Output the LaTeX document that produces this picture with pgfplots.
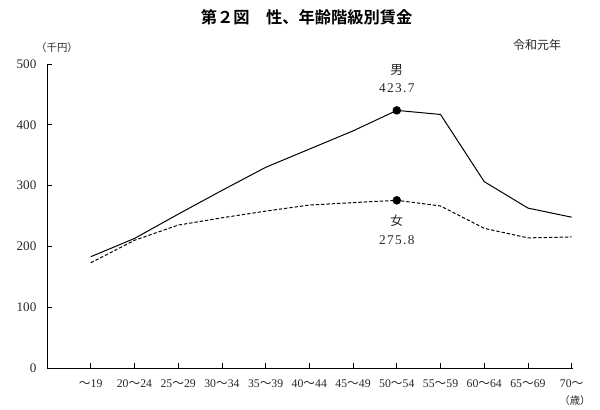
\documentclass[border=0pt]{standalone}
\usepackage{fontspec}
\usepackage{pgfplots}
\pgfplotsset{compat=1.18}
\setmainfont{Liberation Serif}
\newfontfamily\jp{Noto Sans CJK JP}
\newfontfamily\jpl{Noto Sans CJK JP Light}[BoldFont={Noto Sans CJK JP Bold}]
\pgfplotstableread{
x men women
0 183 173
1 213 210
2 253 235
3 292 247
4 330 258
5 360 268
6 390 272
7 423.7 275.8
8 417 266.5
9 306.5 229.7
10 263 214
11 248 215.5
}\wages
\begin{document}
\begin{tikzpicture}
\useasboundingbox (0,0) rectangle (450pt,307.5pt);
\begin{axis}[
  scale only axis,
  width=394.5pt, height=228pt,
  at={(35.25pt,31.5pt)}, anchor=south west,
  xmin=-1, xmax=11.03, ymin=0, ymax=500,
  axis x line*=bottom, axis y line*=left,
  xtick={0,...,11},
  xticklabels={{\jp ～}19,20{\jp ～}24,25{\jp ～}29,30{\jp ～}34,35{\jp ～}39,40{\jp ～}44,45{\jp ～}49,50{\jp ～}54,55{\jp ～}59,60{\jp ～}64,65{\jp ～}69,70{\jp ～}},
  ytick={0,100,...,500},
  tick align=inside,
  major tick length=3.5pt,
  tick style={black, line width=0.5pt},
  axis line style={black, line width=0.7pt},
  /pgf/number format/assume math mode=true,
  yticklabel style={font=\fontsize{9.8}{10}\selectfont, text=black!85, xshift=-4.5pt},
  xticklabel style={font=\fontsize{8.8}{10}\selectfont, text=black!85, yshift=-5pt},
  clip=false,
]
\addplot[black, line width=0.75pt, mark=*, mark indices={8}, mark size=2.8pt] table[x=x, y=men] {\wages};
\addplot[black, line width=0.75pt, dash pattern=on 2.5pt off 1.5pt, mark=*, mark indices={8}, mark size=2.8pt, mark options={solid}] table[x=x, y=women] {\wages};
\node[font=\jp\fontsize{9.5}{10}\selectfont, text=black!85] at (axis cs:7,490) {男};
\node[font=\fontsize{10}{11}\selectfont, text=black!85] at (axis cs:7,461) {\addfontfeature{LetterSpace=10}423.7};
\node[font=\jp\fontsize{9.5}{10}\selectfont, text=black!85] at (axis cs:7,243) {女};
\node[font=\fontsize{10}{11}\selectfont, text=black!85] at (axis cs:7,211) {\addfontfeature{LetterSpace=10}275.8};
\end{axis}
\node[font=\jpl\bfseries\fontsize{12.2}{13}\selectfont] at (230pt,294.75pt) {第２図　性、年齢階級別賃金};
\node[font=\jp\fontsize{9}{9}\selectfont, text=black!85] at (402.75pt,273.75pt) {令和元年};
\node[font=\jp\fontsize{7.8}{8}\selectfont, text=black!85] at (42.75pt,271.5pt) {（千円）};
\node[font=\jp\fontsize{7.8}{8}\selectfont, text=black!85] at (431.25pt,7pt) {（歳）};
\end{tikzpicture}
\end{document}
